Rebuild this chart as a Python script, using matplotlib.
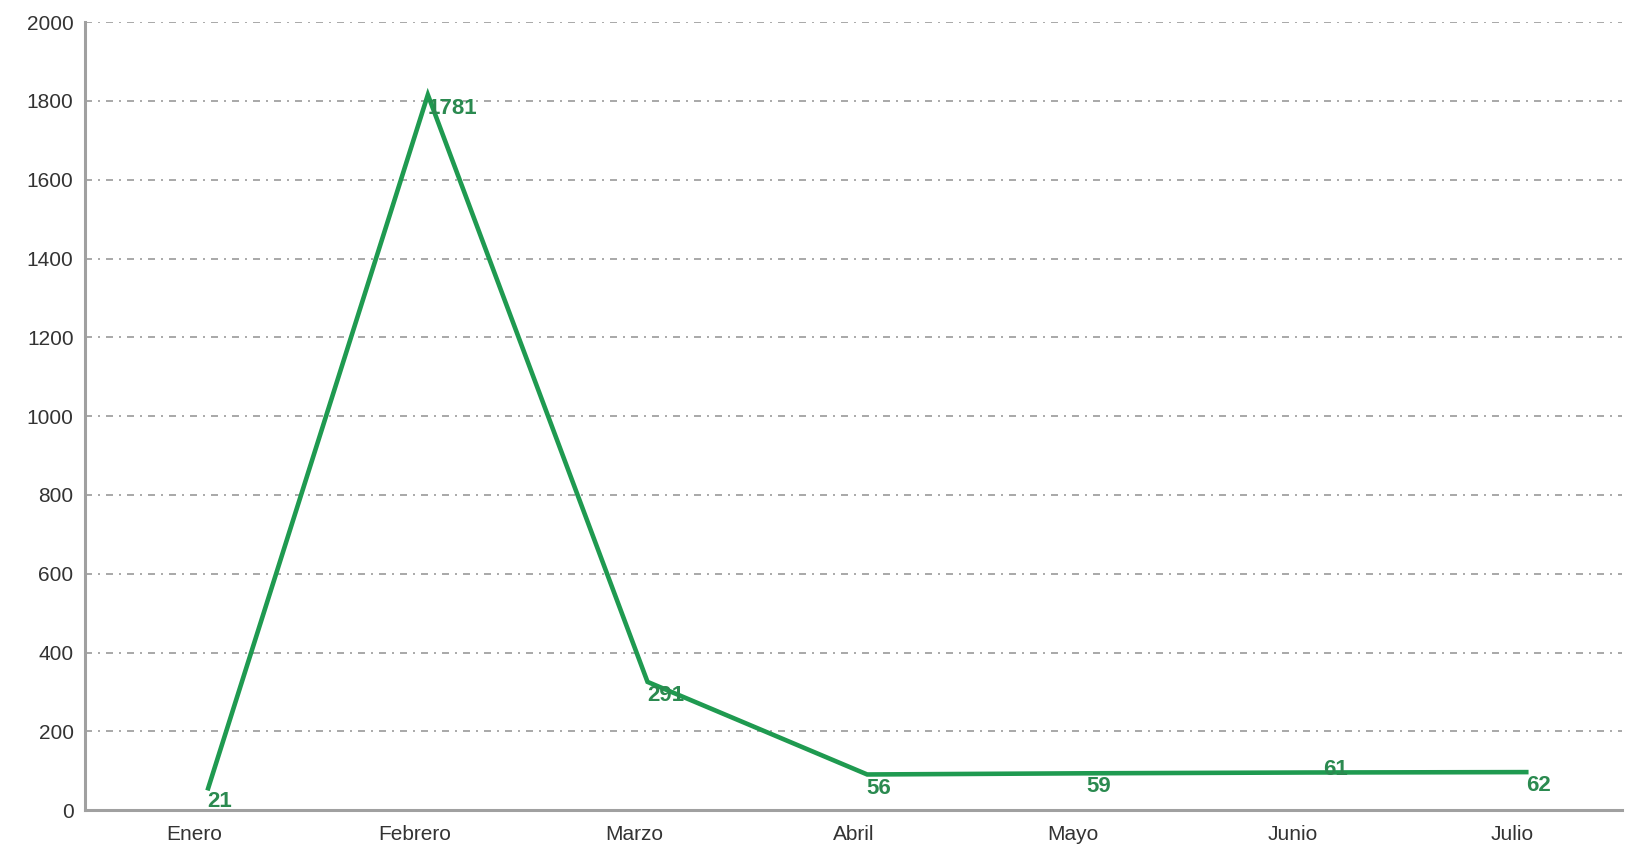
import matplotlib
matplotlib.use("Agg")
import matplotlib.pyplot as plt
import matplotlib.transforms as mtransforms

months = ["Enero", "Febrero", "Marzo", "Abril", "Mayo", "Junio", "Julio"]
values = [21, 1781, 291, 56, 59, 61, 62]
yticks = [0, 200, 400, 600, 800, 1000, 1200, 1400, 1600, 1800, 2000]

GREEN = "#1f9a50"
LABEL_GREEN = "#2b8a50"
GRID = "#a8a8a8"
SPINE = "#a0a0a0"

plt.rcParams["font.family"] = ["Liberation Sans", "DejaVu Sans"]

fig = plt.figure(figsize=(16.29, 8.51), dpi=100)
ax = fig.add_axes([0.052, 0.048, 0.944, 0.926])

x = list(range(len(months)))

# line is drawn shifted a little right/up from the value positions, as in the source
shift = mtransforms.offset_copy(ax.transData, fig=fig, x=9.8, y=9.8, units="points")
ax.plot(x, values, color=GREEN, lw=3.3, solid_joinstyle="miter", transform=shift, zorder=3)

for i, v in enumerate(values):
    dx = 9.5 if i != 5 else 22
    dy = 0 if i != 5 else 12
    ax.annotate(str(v), (i, v), xytext=(dx, dy), textcoords="offset points",
                ha="left", va="center", fontsize=16, fontweight="bold",
                color=LABEL_GREEN, zorder=4)

ax.set_xlim(-0.5, len(months) - 0.5)
ax.set_ylim(0, 2000)
ax.set_xticks(x)
ax.set_xticklabels(months)
ax.set_yticks(yticks)
ax.tick_params(length=0, labelsize=15, colors="#333333")
ax.tick_params(axis="y", pad=8)
ax.tick_params(axis="x", pad=11)

for t in yticks[1:]:
    ax.axhline(t, color=GRID, lw=1.4, ls=(0, (3.6, 3.1, 1.0, 3.1)), zorder=1)

for s in ("top", "right"):
    ax.spines[s].set_visible(False)
for s in ("left", "bottom"):
    ax.spines[s].set_color(SPINE)
    ax.spines[s].set_linewidth(2.2)

fig.savefig("out.png", dpi=100)
